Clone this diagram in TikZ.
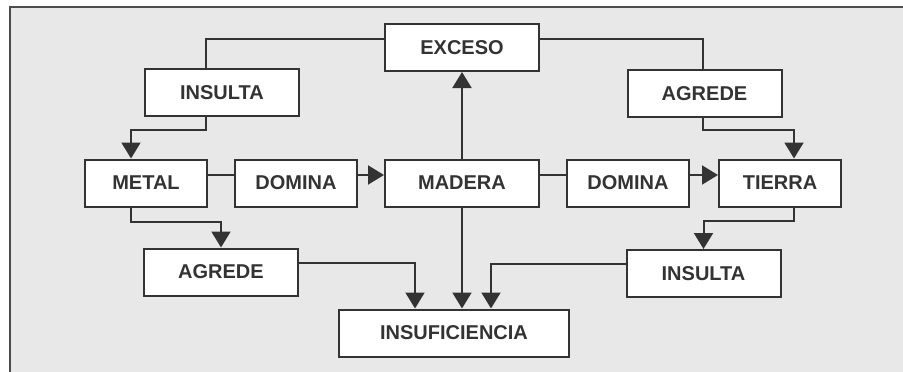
\documentclass[tikz,border=0pt]{standalone}
\usepackage{fontspec}
\setmainfont{Liberation Sans}
\usepackage{tikz}
\usetikzlibrary{arrows.meta}

\begin{document}
\begin{tikzpicture}[x=1pt, y=-1pt,
                    line width=2pt, color=black!80,
                    box/.style={draw, fill=white, inner sep=0,
                                minimum width=154pt, minimum height=47pt,
                                font=\fontsize{20}{24}\selectfont\bfseries},
                    short/.style={box, minimum width=122pt},
                    arr/.style={-{Triangle[width=19pt,length=16pt]}}]
                \path[use as bounding box, fill=white] (0,0) rectangle (903,372);
                \fill[black!9] (10,7) rectangle (903,372);
                \draw[black!70, line width=2.5pt] (10,372) -- (10,7) -- (903,7);

                \node[box] (exceso) at (462,47.5) {EXCESO};
                \node[box] (insulta1) at (222,92.5) {INSULTA};
                \node[box] (agrede1) at (704.5,93.5) {AGREDE};
                \node[short] (metal) at (146,183) {METAL};
                \node[short] (domina1) at (296,183) {DOMINA};
                \node[box] (madera) at (462,183) {MADERA};
                \node[short] (domina2) at (628,183) {DOMINA};
                \node[short] (tierra) at (780,183) {TIERRA};
                \node[box] (agrede2) at (221,272) {AGREDE};
                \node[box] (insulta2) at (703.5,273.5) {INSULTA};
                \node[box, minimum width=230pt] (insuf) at (454,333) {INSUFICIENCIA};

                \draw ([yshift=8.5pt]exceso.west) -| ([xshift=-16pt]insulta1.north);
                \draw[arr] ([xshift=-16pt]insulta1.south) -- ++(0,13) -| ([xshift=-15pt]metal.north);
                \draw ([yshift=8.5pt]exceso.east) -| ([xshift=-1.5pt]agrede1.north);
                \draw[arr] ([xshift=-1.5pt]agrede1.south) -- ++(0,12) -| ([xshift=14pt]tierra.north);

                \draw ([yshift=8pt]metal.east) -- ([yshift=8pt]domina1.west);
                \draw[arr] ([yshift=8pt]domina1.east) -- ([yshift=8pt]madera.west);
                \draw ([yshift=8pt]madera.east) -- ([yshift=8pt]domina2.west);
                \draw[arr] ([yshift=8pt]domina2.east) -- ([yshift=8pt]tierra.west);

                \draw[arr] (madera.north) -- (exceso.south);
                \draw[arr] (madera.south) -- (madera.south |- insuf.north);

                \draw[arr] ([xshift=-15pt]metal.south) -- ++(0,14) -| (agrede2.north);
                \draw[arr] ([yshift=9pt]agrede2.east) -| ([xshift=-39pt]insuf.north);
                \draw[arr] ([xshift=14pt]tierra.south) -- ++(0,13) -| (insulta2.north);
                \draw[arr] ([yshift=9.5pt]insulta2.west) -| ([xshift=37pt]insuf.north);
            \end{tikzpicture}
\end{document}
